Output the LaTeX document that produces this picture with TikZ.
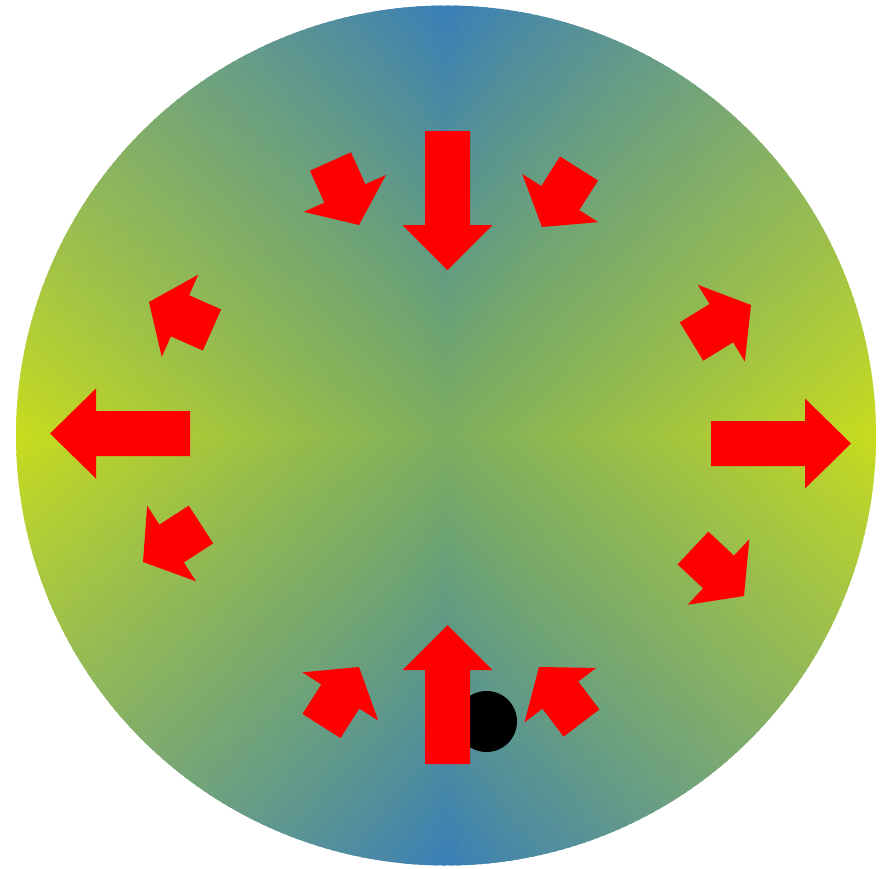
\documentclass[tikz,border=0pt]{standalone}
\usetikzlibrary{calc,fadings}
\definecolor{cblue}{HTML}{3A7FB8}
\definecolor{cyel}{HTML}{C9DD1E}
\definecolor{cgreen}{HTML}{7DAE5F}
\definecolor{arrowred}{HTML}{FF0000}
\pgfdeclareradialshading{radfadeshade}{\pgfpointorigin}{color(0bp)=(pgftransparent!0); color(25bp)=(pgftransparent!100); color(50bp)=(pgftransparent!100)}
\pgfdeclarefading{radfade}{\pgfuseshading{radfadeshade}}
\tikzset{arrowbody/.style={fill=arrowred, draw=none}}
\newcommand\redarrow[3]{%
  \coordinate (S) at ($(#1)!#3!(#2)$);
  \fill[arrowbody] ($(#1)!22.5pt!90:(#2)$) -- ($(S)!22.5pt!90:(#2)$) -- ($(S)!45pt!90:(#2)$) -- (#2)
    -- ($(S)!45pt!-90:(#2)$) -- ($(S)!22.5pt!-90:(#2)$) -- ($(#1)!22.5pt!-90:(#2)$) -- cycle;}
\begin{document}
\begin{tikzpicture}[x=1pt,y=-1pt]
\useasboundingbox (0,0) rectangle (881,868);
\coordinate (c) at (446,435.5);
% background disc: angular colours (yellow on the horizontal axis, blue on the vertical one)
\foreach \a in {0,1,...,359}{%
  \pgfmathsetmacro\t{100*(1-abs(asin(sin(\a+0.5)))/90)}
  \fill[cyel!\t!cblue] (c) -- ($(c)+(\a:430)$) arc[start angle=\a,end angle=\a+1.6,radius=430] -- cycle;}
% green centre blending outwards
\fill[cgreen, path fading=radfade] (c) circle (430);
% black dot
\fill[black] (486.5,721.5) circle (30.5);
% big arrows
\coordinate (bt) at (447.5,131);  \coordinate (tt) at (447.5,270);
\coordinate (bb) at (447.5,764);  \coordinate (tb) at (447.5,625);
\coordinate (bl) at (190,433.5);  \coordinate (tl) at (50,433.5);
\coordinate (br) at (711,443.5);  \coordinate (tr) at (851,443.5);
\redarrow{bt}{tt}{94pt}
\redarrow{bb}{tb}{94pt}
\redarrow{bl}{tl}{94pt}
\redarrow{br}{tr}{94pt}
% small arrows
\coordinate (b1) at (330.5,161.5); \coordinate (t1) at (359,225);
\coordinate (b2) at (579,168.5);   \coordinate (t2) at (542,227);
\coordinate (b3) at (212,330);     \coordinate (t3) at (149,302);
\coordinate (b4) at (691.5,341.5); \coordinate (t4) at (751,305);
\coordinate (b5) at (201,524.5);   \coordinate (t5) at (143,562);
\coordinate (b6) at (693,548);     \coordinate (t6) at (744,596);
\coordinate (b7) at (321.5,726);   \coordinate (t7) at (359,667);
\coordinate (b8) at (581.5,723);   \coordinate (t8) at (539,667);
\foreach \i in {1,...,8}{\redarrow{b\i}{t\i}{35pt}}
\end{tikzpicture}
\end{document}
